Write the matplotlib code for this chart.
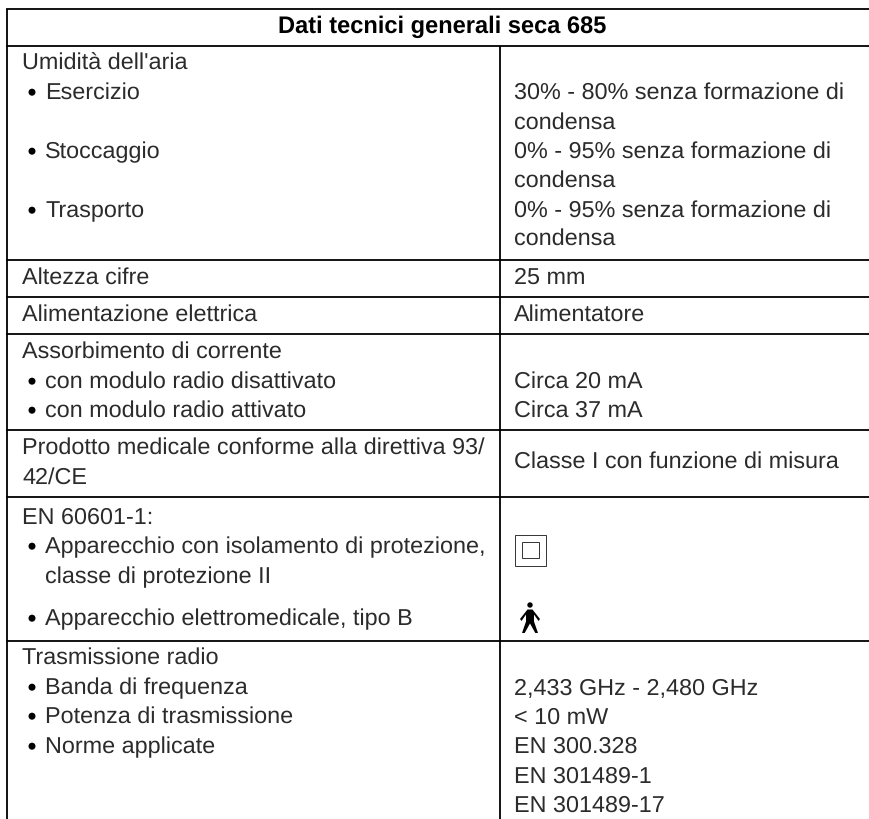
import matplotlib
matplotlib.use("Agg")
import matplotlib.pyplot as plt
from matplotlib.patches import Rectangle, Circle, Polygon

plt.rcParams["font.family"] = ["Liberation Sans", "DejaVu Sans"]
plt.rcParams["text.hinting"] = "no_hinting"

W, H = 870, 819
title = "Dati tecnici generali seca 685"

# left column text and its baseline (px from top)
left_texts = ["Umidità dell'aria", "Esercizio", "Stoccaggio", "Trasporto",
              "Altezza cifre", "Alimentazione elettrica",
              "Assorbimento di corrente", "con modulo radio disattivato", "con modulo radio attivato",
              "Prodotto medicale conforme alla direttiva 93/", "42/CE",
              "EN 60601-1:", "Apparecchio con isolamento di protezione,", "classe di protezione II",
              "Apparecchio elettromedicale, tipo B",
              "Trasmissione radio", "Banda di frequenza", "Potenza di trasmissione", "Norme applicate"]
left_y = [70, 99, 158, 217, 284, 321, 358, 388, 417, 454, 484, 524,
          553, 583, 625, 664, 694, 723, 753]
left_bullet = [False, True, True, True, False, False, False, True, True, False, False,
               False, True, False, True, False, True, True, True]
left_indent = [False, False, False, False, False, False, False, False, False, False, False,
               False, False, True, False, False, False, False, False]

right_texts = ["30% - 80% senza formazione di", "condensa", "0% - 95% senza formazione di", "condensa",
               "0% - 95% senza formazione di", "condensa", "25 mm", "Alimentatore",
               "Circa 20 mA", "Circa 37 mA", "Classe I con funzione di misura",
               "2,433 GHz - 2,480 GHz", "< 10 mW", "EN 300.328", "EN 301489-1", "EN 301489-17"]
right_y = [99, 129, 158, 187, 217, 245, 284, 321, 388, 417, 468,
           695, 724, 753, 783, 812]

row_lines = [9, 45.5, 259.5, 297, 334, 430, 497, 641]
col_line = 500
left_edge = 7.5

fig = plt.figure(figsize=(W / 100, H / 100), dpi=100)
ax = fig.add_axes([0, 0, 1, 1])
ax.set_xlim(0, W)
ax.set_ylim(H, 0)
ax.axis("off")

INK = "#2b2b2b"
FS = 16.8
LW = 1.3

# the table is cut off at the right and bottom edge of the picture
for y in row_lines:
    ax.plot([left_edge, W], [y, y], color="black", lw=LW, solid_capstyle="projecting", clip_on=False)
ax.plot([left_edge, left_edge], [9, H], color="black", lw=LW, solid_capstyle="butt")
ax.plot([col_line, col_line], [45.5, H], color="black", lw=LW, solid_capstyle="butt")

ax.text(442.5, 33, title, ha="center", va="baseline", fontsize=17, fontweight="bold", color="black")

for txt, y, bullet, indent in zip(left_texts, left_y, left_bullet, left_indent):
    x = 45 if bullet or indent else 22
    ax.text(x, y, txt, ha="left", va="baseline", fontsize=FS, color=INK)
    if bullet:
        ax.add_patch(Circle((32, y - 6.8), 3.5, color="black", lw=0))

for txt, y in zip(right_texts, right_y):
    ax.text(514, y, txt, ha="left", va="baseline", fontsize=FS, color=INK)

# protection class II symbol
ax.add_patch(Rectangle((515.5, 534.5), 31, 31, fill=False, ec="#333333", lw=0.7))
ax.add_patch(Rectangle((522.5, 542), 16.5, 16, fill=False, ec="#333333", lw=0.7))

# type B symbol
ax.add_patch(Circle((530, 605), 2.7, color="black", lw=0))
ax.add_patch(Polygon([(527.5, 609.5), (532.5, 609.5), (540, 619), (538.5, 621), (534, 614.5), (534, 621.5),
                      (538, 633), (535.3, 633), (530, 623.5), (524.7, 633), (522, 633), (526, 621.5),
                      (526, 614.5), (521.5, 621), (520, 619)], closed=True, color="black", lw=0))

fig.savefig("out.png", dpi=100)
